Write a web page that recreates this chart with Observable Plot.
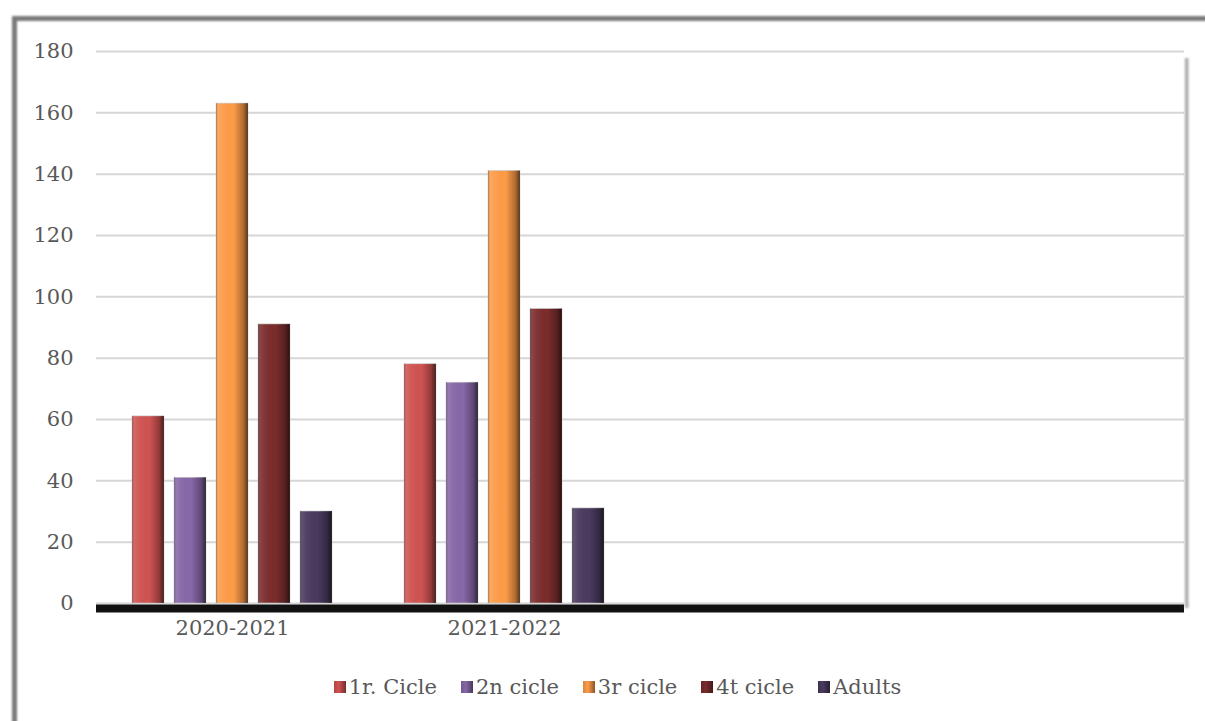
<!DOCTYPE html>
<html>
<head>
<meta charset="utf-8">
<script src="https://cdn.jsdelivr.net/npm/d3@7"></script>
<script src="https://cdn.jsdelivr.net/npm/@observablehq/plot@0.6"></script>
<style>
  html, body { margin: 0; padding: 0; background: #fff; width: 1205px; height: 721px; overflow: hidden; }
  #wrap { position: relative; width: 1205px; height: 721px; font-family: "DejaVu Serif", serif; color: #595959; }
  #frame { position: absolute; left: 12px; top: 16px; width: 1300px; height: 800px;
           border-top: 5px solid #7a7a7a; border-left: 5px solid #7a7a7a; filter: blur(0.9px); }
  #rightedge { position: absolute; left: 1185px; top: 58px; width: 4px; height: 550px;
               background: linear-gradient(to right, #999, #d0d0d0); filter: blur(0.8px); }
  #chart { position: absolute; left: 0; top: 0; }
  #legend { position: absolute; left: 0; top: 675px; width: 1235px; display: flex; justify-content: center;
            font-size: 21px; color: #595959; }
  .item { display: flex; align-items: center; margin: 0 12px; }
  .sw { width: 12px; height: 12px; margin-right: 3px; }
</style>
</head>
<body>
<div id="wrap">
  <div id="frame"></div>
  <div id="chart"></div>
  <div id="rightedge"></div>
  <div id="legend"></div>
</div>
<script>
const groups = ["2020-2021", "2021-2022", "g3", "g4"];
const groupLabels = ["2020-2021", "2021-2022", "", ""];
const series = ["1r. Cicle", "2n cicle", "3r cicle", "4t cicle", "Adults"];
const values2020 = [61, 41, 163, 91, 30];
const values2021 = [78, 72, 141, 96, 31];
const colors = ["#cf5351", "#8767a8", "#fd9c48", "#7b2c2c", "#4a3a5f"];
const yTicks = [0, 20, 40, 60, 80, 100, 120, 140, 160, 180];

const data = [];
series.forEach((s, i) => {
  data.push({group: groups[0], series: s, value: values2020[i]});
  data.push({group: groups[1], series: s, value: values2021[i]});
});

// grid rows in every facet (including the empty ones)
const gridRows = groups.flatMap(g => yTicks.map(v => ({group: g, value: v})));
const baseRows = groups.map(g => ({group: g, value: 0}));

const labelOf = new Map(groups.map((g, i) => [g, groupLabels[i]]));

const defs = () => {
  const svg = d3.create("svg:g");
  const d = svg.append("defs");
  const h = d.append("linearGradient").attr("id", "bevelH").attr("x1", 0).attr("x2", 1).attr("y1", 0).attr("y2", 0);
  [[0, "#000", 0.35], [0.07, "#fff", 0.12], [0.2, "#fff", 0.05], [0.55, "#000", 0], [0.85, "#000", 0.3], [1, "#000", 0.65]]
    .forEach(([o, c, a]) => h.append("stop").attr("offset", o).attr("stop-color", c).attr("stop-opacity", a));
  return svg.node();
};

const chart = Plot.plot({
  width: 1205,
  height: 650,
  marginLeft: 95,
  marginRight: 20,
  marginTop: 51,
  marginBottom: 47,
  style: {fontFamily: "DejaVu Serif, serif", fontSize: "21px", color: "#595959", background: "transparent"},
  fx: {domain: groups, padding: 0, label: null, tickSize: 0, tickPadding: 17, axis: "bottom", tickFormat: g => labelOf.get(g)},
  x: {domain: series, axis: null, paddingInner: 0.235, paddingOuter: 0.85},
  y: {domain: [0, 180], ticks: yTicks, tickSize: 0, tickPadding: 23, label: null},
  color: {domain: series, range: colors},
  marks: [
    defs,
    Plot.ruleY(gridRows, {fx: "group", y: "value", stroke: "#d6d6d6", strokeWidth: 2}),
    Plot.barY(data, {fx: "group", x: "series", y: "value", fill: "series", stroke: "#c8c8c8", strokeWidth: 0.6}),
    Plot.barY(data, {fx: "group", x: "series", y: "value", fill: "url(#bevelH)"}),
    Plot.ruleY(baseRows, {fx: "group", y: "value", stroke: "#111", strokeWidth: 8, dy: 5})
  ]
});
document.getElementById("chart").appendChild(chart);

const legend = document.getElementById("legend");
series.forEach((s, i) => {
  const it = document.createElement("div");
  it.className = "item";
  const sw = document.createElement("div");
  sw.className = "sw";
  sw.style.background = `linear-gradient(to right, rgba(0,0,0,0.15), rgba(0,0,0,0) 40%, rgba(0,0,0,0.45)), ${colors[i]}`;
  const t = document.createElement("span");
  t.textContent = s;
  it.appendChild(sw);
  it.appendChild(t);
  legend.appendChild(it);
});
</script>
</body>
</html>
